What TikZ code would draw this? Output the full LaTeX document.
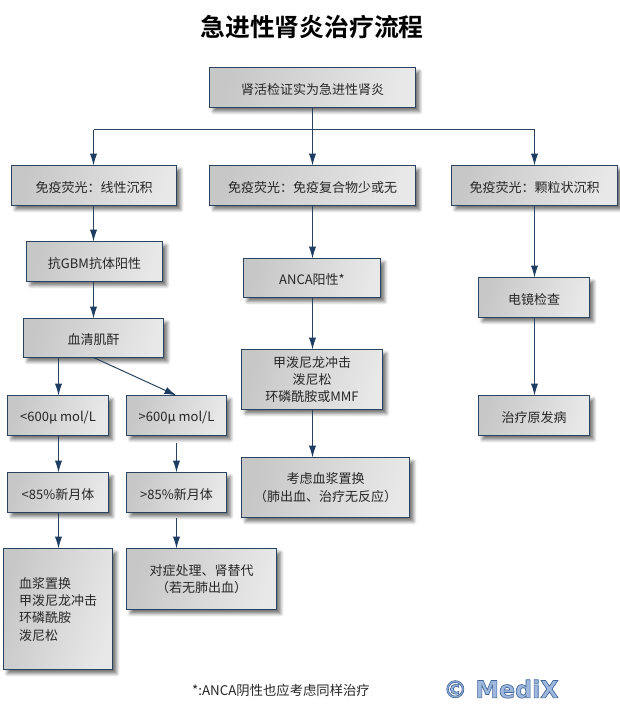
\documentclass[tikz,border=0pt]{standalone}
\usepackage{fontspec}
\setmainfont{Noto Sans CJK SC}
\newfontfamily\titlefont{Noto Sans CJK SC Bold}
\newfontfamily\logofont{DejaVu Sans Bold}
\usetikzlibrary{arrows.meta,shadows.blur}
\definecolor{edgeblue}{HTML}{2A4460}
\definecolor{headblue}{HTML}{1F3D63}
\tikzset{
  x=0.75pt,y=-0.75pt,
  box/.style={draw=edgeblue,line width=0.75pt,left color=black!22,right color=black!9,shading angle=75,
    align=center,inner sep=0pt,outer sep=0pt,text=black!85,font=\fontsize{9.75pt}{13pt}\selectfont,
    execute at begin node={\rule{0pt}{1.15em}},
    blur shadow={shadow xshift=3pt,shadow yshift=-3pt,shadow blur steps=6,shadow blur radius=2.5pt,shadow opacity=55}},
  conn/.style={draw=edgeblue,line width=0.75pt},
  flow/.style={conn,-{Latex[length=9pt,width=5.5pt,color=headblue]}},
}
\newcommand{\bx}[6]{\node[box,minimum width=#3*0.75pt,minimum height=#4*0.75pt] (#1) at (#2) {#6};}
\begin{document}
\begin{tikzpicture}
\useasboundingbox (0,0) rectangle (620,724);
\node[font=\titlefont\fontsize{18.6pt}{20pt}\selectfont] (title) at (312,27) {急进性肾炎治疗流程};
\bx{top}{312.5,87.5}{206}{40}{}{肾活检证实为急进性肾炎}
\bx{a}{94,185.5}{165}{40}{}{免疫荧光：线性沉积}
\bx{b}{312.5,185.5}{206}{40}{}{免疫荧光：免疫复合物少或无}
\bx{c}{534.5,185.5}{166}{40}{}{免疫荧光：颗粒状沉积}
\bx{gbm}{94.5,261.5}{136}{40}{}{抗GBM抗体阳性}
\bx{cr}{93.5,338}{140}{39}{}{血清肌酐}
\bx{lo}{58,415.5}{101}{40}{}{<600μ mol/L}
\bx{hi}{176.5,415.5}{100}{40}{}{>600μ mol/L}
\bx{clo}{58,492.5}{101}{40}{}{<85\%新月体}
\bx{chi}{176.5,492.5}{100}{40}{}{>85\%新月体}
\bx{tlo}{58,609}{109}{121}{}{\rule{0pt}{31pt}\begin{tabular}{@{}l@{}}血浆置换\\甲泼尼龙冲击\\环磷酰胺\\泼尼松\end{tabular}}
\bx{thi}{201.5,579}{150}{61}{}{对症处理、肾替代\\（若无肺出血）}
\bx{anca}{312,278}{137}{39}{}{ANCA阳性*}
\bx{mp}{312,379.5}{141}{60}{}{甲泼尼龙冲击\\泼尼松\\环磷酰胺或MMF}
\bx{pe}{325.5,487.5}{168}{60}{}{考虑血浆置换\\（肺出血、治疗无反应）}
\bx{em}{534,297.5}{111}{40}{}{电镜检查}
\bx{tx}{534,415.5}{111}{40}{}{治疗原发病}
\coordinate (bus) at (312.5,129.5);
\coordinate (ax) at (93.5,0);
\coordinate (lx) at (58.5,0);
\coordinate (hi0) at (176.5,443);
\coordinate (chi0) at (176.5,518);
\draw[conn] (ax |- bus) -- (c.north |- bus);
\draw[flow] (top.south) -- (b.north);
\draw[flow] (ax |- bus) -- (ax |- a.north);
\draw[flow] (c.north |- bus) -- (c.north);
\draw[flow] (ax |- a.south) -- (ax |- gbm.north);
\draw[flow] (ax |- gbm.south) -- (ax |- cr.north);
\draw[flow] (lx |- cr.south) -- (lx |- lo.north);
\draw[flow] (cr.south) -- (hi.north);
\draw[flow] (lx |- lo.south) -- (lx |- clo.north);
\draw[flow] (hi0) -- (chi.north);
\draw[flow] (lx |- clo.south) -- (lx |- tlo.north);
\draw[flow] (chi0) -- (chi0 |- thi.north);
\draw[flow] (b.south) -- (b.south |- anca.north);
\draw[flow] (b.south |- anca.south) -- (b.south |- mp.north);
\draw[flow] (b.south |- mp.south) -- (b.south |- pe.north);
\draw[flow] (c.south) -- (c.south |- em.north);
\draw[flow] (c.south |- em.south) -- (c.south |- tx.north);
\node[font=\fontsize{10pt}{12pt}\selectfont,text=black!85] (note) at (281,690.5) {*:ANCA阴性也应考虑同样治疗};
\node[font=\logofont\fontsize{17.8pt}{19pt}\selectfont,inner sep=0pt] (logo) at (501,689) {\special{pdf:code q 2 Tr 0.5 w 0.25 0.4 0.6 RG 0.62 0.72 0.87 rg}© MediX\special{pdf:code 0 Tr Q}};
\end{tikzpicture}
\end{document}
